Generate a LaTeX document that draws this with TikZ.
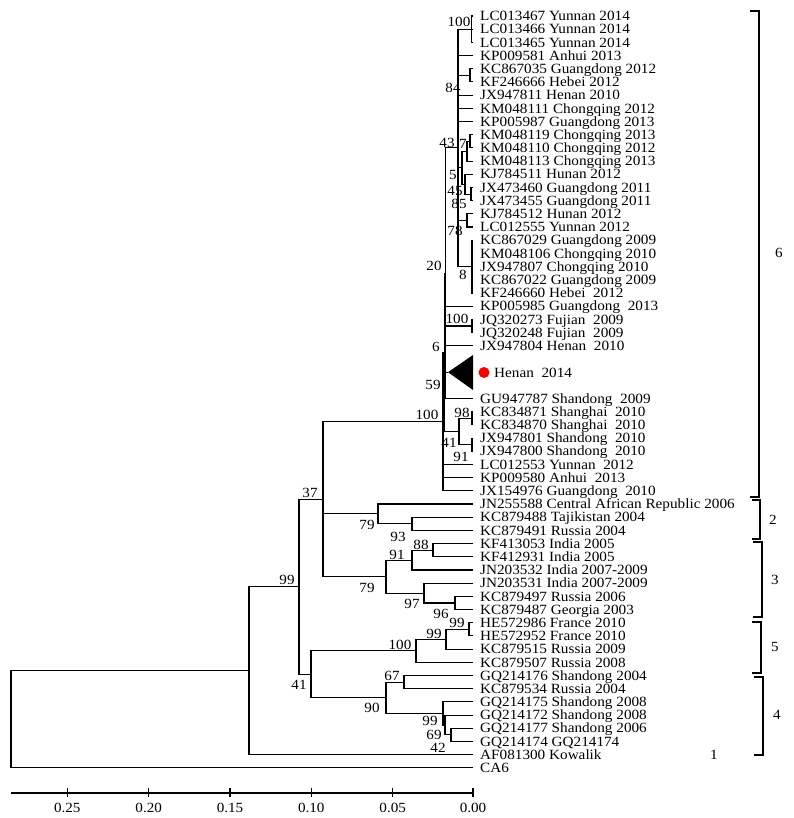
\documentclass[tikz,border=0pt]{standalone}
\usepackage{fontspec}
\setmainfont{Liberation Serif}[FakeStretch=1.08]
\begin{document}
\begin{tikzpicture}[x=1pt,y=-1pt,
  br/.style={line width=1.1pt},
  leaf/.style={anchor=west,inner sep=0pt,font=\fontsize{14.1}{15}\selectfont,text height=9.4pt,text depth=0pt},
  boot/.style={inner sep=0pt,font=\fontsize{14}{15}\selectfont}]
\fill[white] (0,0) rectangle (793,818);
\useasboundingbox (0,0) rectangle (793,818);

% leaves
\foreach \i/\lab in {
 0/LC013467 Yunnan 2014, 1/LC013466 Yunnan 2014, 2/LC013465 Yunnan 2014,
 3/KP009581 Anhui 2013, 4/KC867035 Guangdong 2012, 5/KF246666 Hebei 2012,
 6/JX947811 Henan 2010, 7/KM048111 Chongqing 2012, 8/KP005987 Guangdong 2013,
 9/KM048119 Chongqing 2013, 10/KM048110 Chongqing 2012, 11/KM048113 Chongqing 2013,
 12/KJ784511 Hunan 2012, 13/JX473460 Guangdong 2011, 14/JX473455 Guangdong 2011,
 15/KJ784512 Hunan 2012, 16/LC012555 Yunnan 2012, 17/KC867029 Guangdong 2009,
 18/KM048106 Chongqing 2010, 19/JX947807 Chongqing 2010, 20/KC867022 Guangdong 2009,
 21/KF246660 Hebei~~2012, 22/KP005985 Guangdong~~2013, 23/JQ320273 Fujian~~2009,
 24/JQ320248 Fujian~~2009, 25/JX947804 Henan~~2010,
 29/GU947787 Shandong~~2009, 30/KC834871 Shanghai~~2010, 31/KC834870 Shanghai~~2010,
 32/JX947801 Shandong~~2010, 33/JX947800 Shandong~~2010, 34/LC012553 Yunnan~~2012,
 35/KP009580 Anhui~~2013, 36/JX154976 Guangdong~~2010,
 37/JN255588 Central African Republic 2006, 38/KC879488 Tajikistan 2004,
 39/KC879491 Russia 2004, 40/KF413053 India 2005, 41/KF412931 India 2005,
 42/JN203532 India 2007-2009, 43/JN203531 India 2007-2009, 44/KC879497 Russia 2006,
 45/KC879487 Georgia 2003, 46/HE572986 France 2010, 47/HE572952 France 2010,
 48/KC879515 Russia 2009, 49/KC879507 Russia 2008, 50/GQ214176 Shandong 2004,
 51/KC879534 Russia 2004, 52/GQ214175 Shandong 2008, 53/GQ214172 Shandong 2008,
 54/GQ214177 Shandong 2006, 55/GQ214174 GQ214174, 56/AF081300 Kowalik, 57/CA6}{
  \coordinate (T\i) at (473,{16+13.19*\i});
  \node[leaf] (L\i) at (480,{16+13.19*\i}) {\lab};
}

% internal nodes
\coordinate (N100a) at (471.5,29.19);
\coordinate (N84) at (470,75.36);
\coordinate (N7a) at (470,141.3);
\coordinate (N7b) at (467,151.2);
\coordinate (N85) at (471,194.1);
\coordinate (N45) at (465,184.2);
\coordinate (N5) at (462,167.7);
\coordinate (N78) at (467,220.4);
\coordinate (N8) at (472,266.6);
\coordinate (N43) at (458,147.9);
\coordinate (NJQ) at (472,326.0);
\coordinate (TRI) at (448,372.2);
\coordinate (N20) at (445.5,273.2);
\coordinate (N98) at (472,418.3);
\coordinate (N91a) at (472,444.7);
\coordinate (N41a) at (459,431.5);
\coordinate (N6) at (444.8,352.35);
\coordinate (G6) at (443,421.6);
\coordinate (N93) at (412,523.8);
\coordinate (N79a) at (378,513.9);
\coordinate (N88) at (433,550.2);
\coordinate (N91b) at (412,560.1);
\coordinate (N96) at (455,603.0);
\coordinate (N97) at (424,593.1);
\coordinate (N79b) at (386,576.6);
\coordinate (N37) at (323,499.1);
\coordinate (N99c) at (469,629.3);
\coordinate (N99d) at (446,639.2);
\coordinate (N100c) at (416,650.8);
\coordinate (N67) at (404,682.1);
\coordinate (NC) at (451,734.9);
\coordinate (NB) at (445,725.0);
\coordinate (NA) at (443,713.4);
\coordinate (N90) at (386,697.8);
\coordinate (N41b) at (311,674.3);
\coordinate (N99) at (299,586.7);
\coordinate (N249) at (249,670.7);
\coordinate (Root) at (11,719.3);

\foreach \p/\c in {N100a/T0,N100a/T1,N100a/T2,N84/T4,N84/T5,N7a/T9,N7a/T10,
  N7b/N7a,N7b/T11,N85/T13,N85/T14,N45/T12,N45/N85,N5/N7b,N5/N45,N78/T15,N78/T16,
  N8/T17,N8/T18,N8/T19,N8/T20,N8/T21,
  N43/N100a,N43/T3,N43/N84,N43/T6,N43/T7,N43/T8,N43/N5,N43/N78,N43/N8,
  NJQ/T23,NJQ/T24,N20/N43,N20/T22,N20/NJQ,N20/T25,N20/TRI,N20/T29,
  N98/T30,N98/T31,N91a/T32,N91a/T33,N41a/N98,N41a/N91a,N6/N20,N6/N41a,
  G6/N6,G6/T34,G6/T35,G6/T36,
  N93/T38,N93/T39,N79a/T37,N79a/N93,
  N88/T40,N88/T41,N91b/N88,N91b/T42,N96/T44,N96/T45,N97/T43,N97/N96,N79b/N91b,N79b/N97,
  N37/G6,N37/N79a,N37/N79b,
  N99c/T46,N99c/T47,N99d/N99c,N99d/T48,N100c/N99d,N100c/T49,
  N67/T50,N67/T51,NC/T54,NC/T55,NB/T53,NB/NC,NA/T52,NA/NB,N90/N67,N90/NA,
  N41b/N100c,N41b/N90,N99/N37,N99/N41b,N249/N99,N249/T56,Root/N249,Root/T57}{
  \draw[br] (\p) |- (\c);
}

% collapsed clade
\coordinate (TRIa) at (473,355);
\coordinate (TRIb) at (473,390);
\fill (TRI) -- (TRIa) -- (TRIb) -- cycle;
\node[circle,fill=red,inner sep=0pt,minimum size=11pt] (dot) at (484,372.5) {};
\node[leaf] (LH) at (494,372.5) {Henan~~2014};
\node[leaf] (one) at (710,754.6) {1};

% bootstrap values
\foreach \x/\y/\v [count=\k] in {459/22/100, 453/88/84, 447/143/43, 463/144/7, 453/175/5,
  455/191/45, 459/204/85, 455/231/78, 463/275/8, 434/266/20, 457/319/100, 436/347/6,
  433/385/59, 427/415/100, 462/413/98, 449/443/41, 461/457/91,
  310/493/37, 367/525/79, 398/537/93, 421/545/88, 397/555/91, 367/588/79, 412/604/97,
  441/614/96, 287/580/99, 457/623/99, 434/634/99, 400/645/100, 392/676/67, 299/685/41,
  372/708/90, 430/721/99, 434/735/69, 438/748/42}{
  \node[boot] (bs\k) at (\x,\y) {\v};
}

% genotype brackets
\coordinate (B6t) at (750,11);   \coordinate (B6b) at (750,497);
\coordinate (B2t) at (752,500);  \coordinate (B2b) at (752,539);
\coordinate (B3t) at (753,542);  \coordinate (B3b) at (753,617);
\coordinate (B5t) at (752,622);  \coordinate (B5b) at (752,673);
\coordinate (B4t) at (754,677);  \coordinate (B4b) at (754,755);
\draw[br] (B6t) -- ++(9,0) |- (B6b);
\draw[br] (B2t) -- ++(8,0) |- (B2b);
\draw[br] (B3t) -- ++(9,0) |- (B3b);
\draw[br] (B5t) -- ++(9,0) |- (B5b);
\draw[br] (B4t) -- ++(9,0) |- (B4b);
\node[boot] (g6) at (779,253) {6};
\node[boot] (g2) at (773,520) {2};
\node[boot] (g3) at (775,580) {3};
\node[boot] (g5) at (775,647) {5};
\node[boot] (g4) at (777,715) {4};

% scale axis
\coordinate (A0) at (11,793);
\coordinate (A1) at (473,793);
\draw[br] (A0) -- (A1);
\foreach \x/\v [count=\k] in {67.3/0.25,148.7/0.20,230/0.15,311.3/0.10,392.7/0.05,473/0.00}{
  \coordinate (tk\k) at (\x,788);
  \draw[br] (tk\k) -- ++(0,9);
  \node[boot] (ax\k) at (\x,808) {\v};
}
\end{tikzpicture}
\end{document}
